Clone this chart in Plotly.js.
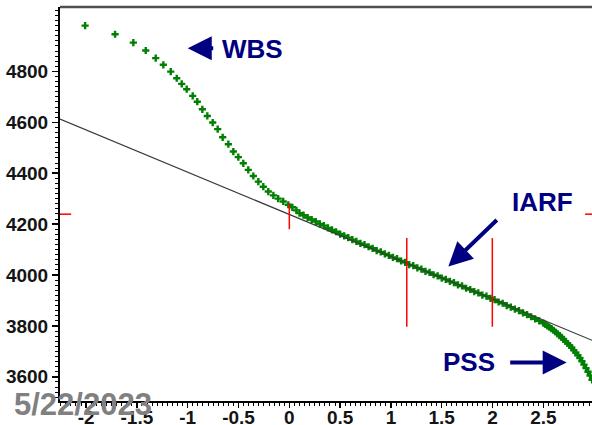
<!DOCTYPE html>
<html>
<head>
<meta charset="utf-8">
<script src="https://cdn.plot.ly/plotly-3.0.1.min.js"></script>
<style>
  html, body { margin: 0; padding: 0; background: #ffffff; }
  #chart { width: 592px; height: 425px; }
</style>
</head>
<body>
<div id="chart"></div>
<script>
// Superposition time function (x) and pressure (y)
const dataX = [
  -2.01, -1.715, -1.535, -1.413, -1.315, -1.24, -1.167, -1.108, -1.059, -1.01,
  -0.951, -0.906, -0.856, -0.807, -0.754, -0.705, -0.656, -0.60, -0.551, -0.502,
  -0.453, -0.404, -0.354, -0.305, -0.256, -0.207, -0.157, -0.11, -0.06, -0.01,
  0.03, 0.07,
  0.10, 0.14, 0.18, 0.22, 0.26, 0.30, 0.34, 0.38, 0.42, 0.46,
  0.50, 0.54, 0.58, 0.62, 0.66, 0.70, 0.74, 0.78, 0.82, 0.86,
  0.90, 0.94, 0.98, 1.02, 1.06, 1.10, 1.14, 1.18, 1.22, 1.26,
  1.30, 1.34, 1.38, 1.42, 1.46, 1.50, 1.54, 1.58, 1.62, 1.66,
  1.70, 1.74, 1.78, 1.82, 1.86, 1.90, 1.94, 1.98, 2.02, 2.06,
  2.10, 2.14, 2.18, 2.22, 2.26, 2.30, 2.34, 2.38, 2.42, 2.46,
  2.50, 2.52, 2.54, 2.56, 2.58, 2.60, 2.62, 2.64, 2.66, 2.68,
  2.70, 2.72, 2.74, 2.76, 2.78, 2.80, 2.82, 2.84, 2.86, 2.88,
  2.90, 2.92, 2.94, 2.96, 2.98
];
const dataY = [
  4980, 4946, 4913, 4882, 4852, 4826, 4799, 4773, 4751, 4730,
  4704, 4681, 4651, 4625, 4599, 4573, 4541, 4514, 4485, 4463,
  4439, 4413, 4389, 4367, 4347, 4328, 4313, 4300, 4289, 4276,
  4266, 4254,
  4243, 4235, 4226, 4218, 4210, 4201, 4194, 4185, 4177, 4170,
  4161, 4154, 4147, 4139, 4132, 4124, 4119, 4111, 4105, 4096,
  4091, 4083, 4077, 4069, 4064, 4055, 4050, 4041, 4037, 4028,
  4023, 4014, 4010, 4001, 3997, 3988, 3983, 3975, 3970, 3961,
  3957, 3948, 3943, 3935, 3930, 3921, 3917, 3908, 3903, 3894,
  3889, 3880, 3874, 3866, 3860, 3851, 3844, 3836, 3828, 3820,
  3811, 3806, 3800, 3795, 3789, 3783, 3776, 3769, 3762, 3755,
  3747, 3739, 3731, 3723, 3714, 3705, 3695, 3685, 3674, 3661,
  3648, 3634, 3620, 3605, 3588
];

// Straight-line (semilog) fit: p = intercept + slope * x
const fitSlope = -166;
const fitIntercept = 4238;

// Axis ticks
const xTickVals = [-2, -1.5, -1, -0.5, 0, 0.5, 1, 1.5, 2, 2.5];
const xTickText = ['-2', '-1.5', '-1', '-0.5', '0', '0.5', '1', '1.5', '2', '2.5'];
const yTickVals = [3600, 3800, 4000, 4200, 4400, 4600, 4800];
const yTickText = ['3600', '3800', '4000', '4200', '4400', '4600', '4800'];

// Axis ranges
const xRange = [-2.257, 2.979];
const yRange = [3505, 5053];

// Red cursor marks
const cursorX = 0;            // vertical cursor at x
const cursorY = [4180, 4283]; // its extent
const cursorLevel = 4239;     // horizontal level marked at both edges
const windowX = [1.156, 1.998];  // IARF window limits
const windowY = [3797, 4145];

// Annotation labels
const labels = ['WBS', 'IARF', 'PSS'];
const labelX = [-0.362, 2.492, 1.768];
const labelY = [4888, 4288, 3657];
// Arrows: head position (data) and tail offset (px)
const arrowX = [-1.0, 1.565, 2.73];
const arrowY = [4891, 4033, 3656];
const arrowAX = [27, 50, -58];
const arrowAY = [0, -48, 0];

const dateText = '5/22/2023';

const fitX = xRange.slice();
const fitY = fitX.map(x => fitIntercept + fitSlope * x);

const traces = [
  {
    x: dataX, y: dataY, type: 'scatter', mode: 'markers',
    marker: { symbol: 'cross', size: 6, color: '#008000', line: { width: 0 } },
    hoverinfo: 'skip'
  },
  {
    x: fitX, y: fitY, type: 'scatter', mode: 'lines',
    line: { color: '#3a3a3a', width: 1.2 },
    hoverinfo: 'skip'
  }
];

const shapes = [];
// top border
shapes.push({ type: 'line', xref: 'paper', yref: 'paper', x0: 0, x1: 1, y0: 1, y1: 1,
  line: { color: '#505050', width: 2.5 } });
// horizontal edge marks
shapes.push({ type: 'line', xref: 'paper', yref: 'y', x0: 0, x1: 0.021, y0: cursorLevel, y1: cursorLevel,
  line: { color: '#ff0000', width: 1.5 } });
shapes.push({ type: 'line', xref: 'paper', yref: 'y', x0: 0.987, x1: 1, y0: cursorLevel, y1: cursorLevel,
  line: { color: '#ff0000', width: 1.5 } });
// vertical cursor
shapes.push({ type: 'line', xref: 'x', yref: 'y', x0: cursorX, x1: cursorX, y0: cursorY[0], y1: cursorY[1],
  line: { color: '#ff0000', width: 1.5 } });
windowX.forEach(wx => {
  shapes.push({ type: 'line', xref: 'x', yref: 'y', x0: wx, x1: wx, y0: windowY[0], y1: windowY[1],
    line: { color: '#ff0000', width: 1.5 } });
});

const annFont = { family: 'Arial, "Liberation Sans", sans-serif', size: 26, color: '#000080' };
const annotations = [];
labels.forEach((t, i) => {
  annotations.push({ x: labelX[i], y: labelY[i], xref: 'x', yref: 'y', text: '<b>' + t + '</b>',
    showarrow: false, xanchor: 'center', yanchor: 'middle', font: annFont });
  annotations.push({ x: arrowX[i], y: arrowY[i], xref: 'x', yref: 'y', text: '',
    showarrow: true, ax: arrowAX[i], ay: arrowAY[i], arrowhead: 2, arrowsize: 1.2,
    arrowwidth: 4, arrowcolor: '#000080', standoff: 0, startstandoff: 0 });
});
annotations.push({ x: -0.09, y: -0.008, xref: 'paper', yref: 'paper', text: '<b>' + dateText + '</b>',
  showarrow: false, xanchor: 'left', yanchor: 'middle',
  font: { family: 'Arial, "Liberation Sans", sans-serif', size: 31, color: '#808080' } });

const tickFont = { family: 'Arial, "Liberation Sans", sans-serif', size: 19, color: '#141414', weight: 'bold' };

const layout = {
  width: 592, height: 425,
  margin: { l: 60, r: 0, t: 7, b: 24, pad: 0 },
  paper_bgcolor: '#ffffff', plot_bgcolor: '#ffffff',
  showlegend: false,
  xaxis: {
    range: xRange, tickmode: 'array', tickvals: xTickVals, ticktext: xTickText,
    ticks: 'outside', ticklen: 5, tickwidth: 1.5, tickcolor: '#000000',
    showline: true, linecolor: '#000000', linewidth: 2,
    showgrid: false, zeroline: false, tickfont: tickFont, ticklabelstandoff: -7,
    minor: { dtick: 0.05, tick0: 0, ticks: 'outside', ticklen: 3, tickwidth: 1, tickcolor: '#000000', showgrid: false }
  },
  yaxis: {
    range: yRange, tickmode: 'array', tickvals: yTickVals, ticktext: yTickText,
    ticks: 'outside', ticklen: 6, tickwidth: 1.5, tickcolor: '#000000',
    showline: true, linecolor: '#000000', linewidth: 2,
    showgrid: false, zeroline: false, tickfont: tickFont,
    minor: { dtick: 20, tick0: 0, ticks: 'outside', ticklen: 3, tickwidth: 1, tickcolor: '#000000', showgrid: false }
  },
  shapes: shapes,
  annotations: annotations
};

Plotly.newPlot('chart', traces, layout, { staticPlot: true, displayModeBar: false });
</script>
</body>
</html>
